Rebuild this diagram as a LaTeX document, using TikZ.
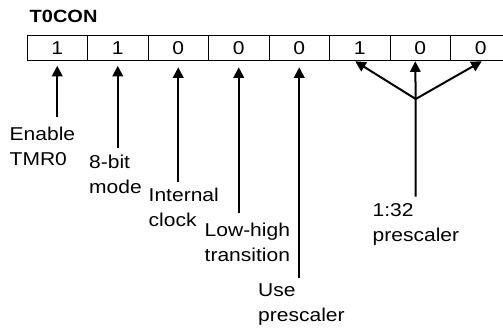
\documentclass[tikz,border=0pt]{standalone}
\usepackage{fontspec}
\setmainfont{Liberation Sans}[FakeStretch=1.13]
\usetikzlibrary{arrows.meta,calc}
\begin{document}
\begin{tikzpicture}[x=1pt,y=-1pt,
  cell/.style={draw, line width=0.9pt, minimum width=60.5pt, minimum height=25.3pt,
    inner sep=0pt, outer sep=0pt, anchor=north west, font=\fontsize{18.6}{25}\selectfont},
  arr/.style={line width=2pt, line join=round, -{Triangle[length=10.5pt,width=10.5pt]}},
  lab/.style={anchor=base west, inner sep=0pt, font=\fontsize{18.6}{25}\selectfont}]
\useasboundingbox (0,0) rectangle (503,327);
\clip (0,0) rectangle (503,327);
% title
\node[anchor=base west, inner sep=0pt, font=\bfseries\fontsize{17.7}{20}\selectfont] (title) at (29.5,22.7) {T0CON};
% register cells
\foreach \v [count=\i from 0] in {1,1,0,0,0,1,0,0} {
  \pgfmathtruncatemacro{\n}{\i+1}
  \node[cell] (c\n) at ({27+60.5*\i},35) {\v};
}
% labels
\node[lab] (l1) at (9.5,140.7) {\begin{tabular}[t]{@{}l@{}}Enable\\TMR0\end{tabular}};
\node[lab] (l2) at (89,168) {\begin{tabular}[t]{@{}l@{}}8-bit\\mode\end{tabular}};
\node[lab] (l3) at (148.5,201) {\begin{tabular}[t]{@{}l@{}}Internal\\clock\end{tabular}};
\node[lab] (l4) at (204.5,236) {\begin{tabular}[t]{@{}l@{}}Low-high\\transition\end{tabular}};
\node[lab] (l5) at (258,296.7) {\begin{tabular}[t]{@{}l@{}}Use\\prescaler\end{tabular}};
\node[lab] (l6) at (372.5,216.7) {\begin{tabular}[t]{@{}l@{}}1:32\\prescaler\end{tabular}};
% arrow tails
\coordinate (t1) at (57.25,117);
\coordinate (t2) at (117.75,148);
\coordinate (t3) at (178.25,181.7);
\coordinate (t4) at (238.75,213);
\coordinate (t5) at (299.25,278);
\coordinate (t6) at (415.7,196.7);
\coordinate (J) at (415.7,99);
% single arrows
\draw[arr] (t1) -- ($(c1.south)+(0,5.5)$);
\draw[arr] (t2) -- ($(c2.south)+(0,5.5)$);
\draw[arr] (t3) -- ($(c3.south)+(0,7)$);
\draw[arr] (t4) -- ($(c4.south)+(0,7)$);
\draw[arr] (t5) -- ($(c5.south)+(0,7)$);
% prescaler fan
\draw[arr] (t6) -- (J) -- ($(c7.south)+(-5,1)$);
\draw[arr] (J) -- ($(c6.south)+(-4.5,1)$);
\draw[arr] (J) -- ($(c8.south)+(1,1)$);
\end{tikzpicture}
\end{document}
